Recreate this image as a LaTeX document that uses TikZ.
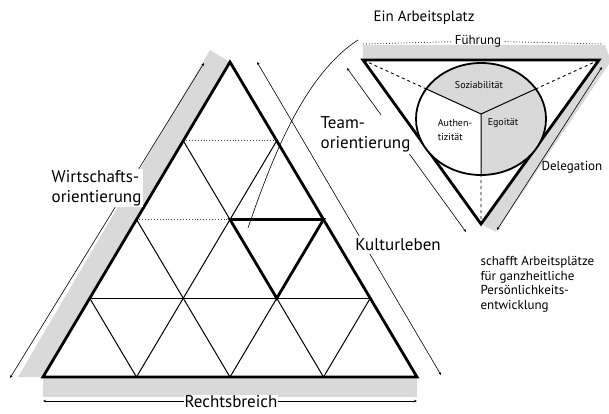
\documentclass[tikz,border=0pt]{standalone}
\usepackage{fontspec}
\setmainfont{PT Sans}
\usetikzlibrary{arrows.meta}

\begin{document}
\begin{tikzpicture}[x=1pt, y=-1pt, every node/.style={font=\fontsize{13}{15}\selectfont},
  band/.style={fill=black!15},
  rim/.style={line width=2.8pt, line join=miter},
  grid/.style={line width=1pt},
  faint/.style={line width=0.9pt, dotted, black!75},
  guide/.style={{Stealth[length=3pt,width=2.5pt]}-{Stealth[length=3pt,width=2.5pt]}, line width=0.6pt},
  lbl/.style={fill=white, inner sep=1.5pt},
  big/.style={font=\fontsize{17}{20}\selectfont},
  small/.style={font=\fontsize{10}{14}\selectfont, align=left, inner sep=0pt},
  note/.style={font=\fontsize{13}{14.5}\selectfont, align=left}]
\useasboundingbox (0,0) rectangle (609,414);

% Big triangle: corners and lattice points
\coordinate (apex) at (230,62);
\coordinate (bl) at (43,377);
\coordinate (br) at (417,377);
\coordinate (r1a) at (183.25,140.75);
\coordinate (r1b) at (276.75,140.75);
\coordinate (r2a) at (136.5,219.5);
\coordinate (r2b) at (230,219.5);
\coordinate (r2c) at (323.5,219.5);
\coordinate (r3a) at (89.75,298.25);
\coordinate (r3c) at (276.75,298.25);
\coordinate (r3d) at (370.25,298.25);
\coordinate (r4b) at (136.5,377);
\coordinate (r4c) at (230,377);
\coordinate (r4d) at (323.5,377);

% Shaded bands round the big triangle
\fill[band] (bl) -- (apex) -- (210,50) -- (18,377) -- cycle;
\fill[band] (bl) rectangle (417,397);

% Lattice
\draw[faint] (r1a) -- (r1b);
\draw[faint] (r2a) -- (r2b);
\draw[grid] (r3a) -- (r3d);
\draw[grid] (r1a) -- (r4d);
\draw[grid] (r2a) -- (r4c);
\draw[grid] (r3a) -- (r4b);
\draw[grid] (r1b) -- (r4b);
\draw[grid] (r2c) -- (r4c);
\draw[grid] (r3d) -- (r4d);
\draw[rim] (r2b) -- (r2c) -- (r3c) -- cycle;
\draw[rim] (apex) -- (br) -- (bl) -- cycle;

% Guides along the big triangle
\coordinate (wl1) at (10,378);
\coordinate (wl2) at (204,63);
\coordinate (rl1) at (43,401);
\coordinate (rl2) at (417,401);
\coordinate (kl1) at (257,62);
\coordinate (kl2) at (441,375);
\draw[guide] (wl1) -- (wl2);
\draw[guide] (rl1) -- (rl2);
\draw[guide] (kl1) -- (kl2);
\node[lbl, big, align=left, anchor=west] (wirt) at (50,188) {Wirtschafts-\\orientierung};
\node[lbl, big, inner sep=1pt] (recht) at (231,402) {Rechtsbreich};
\node[lbl, big, inner sep=3pt] (kultur) at (398,245) {Kulturleben};

% Link to the workplace
\coordinate (arcA) at (248,228);
\coordinate (arcB) at (358,40);
\draw[line width=0.6pt] (arcA) .. controls (272,158) and (304,75) .. (arcB);

% Workplace triangle
\coordinate (tl) at (363,60);
\coordinate (tr) at (599,60);
\coordinate (tb) at (481,224);
\coordinate (mid) at (481,114);
\fill[band] (tl) -- (tr) -- (tb) -- (496,232) -- (611,61) -- (605,45) -- (363,45) -- cycle;
\coordinate (fa) at (363,44);
\coordinate (fb) at (603,44);
\node (fuehr) at (478,41) {Führung};
\draw[faint] (fa) -- (fuehr);
\draw[faint] (fuehr) -- (fb);
\coordinate (ta) at (347,68);
\coordinate (tz) at (466,232);
\coordinate (da) at (602,67);
\coordinate (dz) at (497,230);
\draw[guide] (ta) -- (tz);
\draw[guide] (da) -- (dz);
\node[lbl, big, align=left, anchor=north west] (team) at (319,115) {Team-\\orientierung};
\node[anchor=west] (deleg) at (538,167) {Delegation};
\draw[rim] (tl) -- (tr) -- (tb) -- cycle;
\draw[dashed, line width=0.9pt] (mid) -- (tl) (mid) -- (tr) (mid) -- (tb);

% Circle with three sectors
\begin{scope}
  \clip (481,119) ellipse [x radius=65, y radius=56];
  \fill[white] (400,50) rectangle (560,190);
  \fill[band] (mid) -- (tl) -- (tr) -- cycle;
  \fill[band] (mid) -- (tr) -- (620,240) -- (481,240) -- cycle;
  \draw[grid] (mid) -- (tl) (mid) -- (tr) (mid) -- (tb);
\end{scope}
\draw[line width=1.8pt] (481,119) ellipse [x radius=65, y radius=56];
\node[small] (sozi) at (479,85) {Soziabilität};
\node[small] (auth) at (455,130) {Authen-\\tizität};
\node[small] (ego) at (503,123) {Egoität};

% Titles and note
\node[font=\fontsize{15}{18}\selectfont] (title) at (424,18) {Ein Arbeitsplatz};
\node[note, anchor=north west] (goal) at (477,253) {schafft Arbeitsplätze\\für ganzheitliche\\Persönlichkeits-\\entwicklung};
\end{tikzpicture}
\end{document}
